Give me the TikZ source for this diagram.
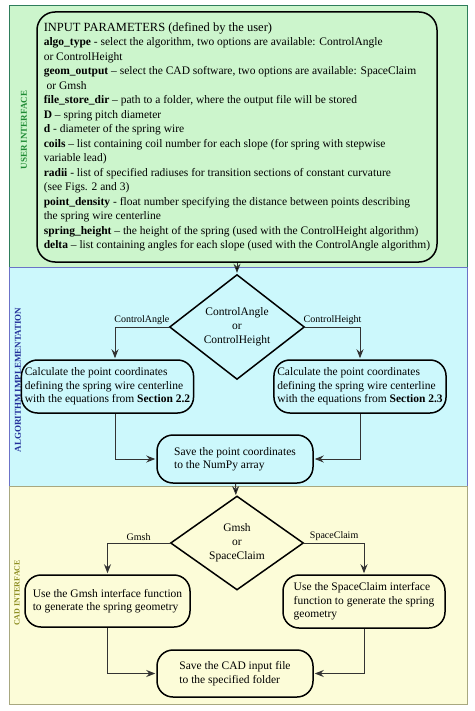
\documentclass[tikz,border=0pt]{standalone}
\usepackage{fontspec}
\setmainfont{Liberation Serif}
\usetikzlibrary{shapes.geometric, arrows.meta}

\definecolor{uifill}{HTML}{CCF5CC}
\definecolor{uiline}{HTML}{2E7D5B}
\definecolor{uitext}{HTML}{1F8A34}
\definecolor{aifill}{HTML}{CCF8FC}
\definecolor{ailine}{HTML}{6B72C8}
\definecolor{aitext}{HTML}{22309A}
\definecolor{cadfill}{HTML}{FCFCD8}
\definecolor{cadline}{HTML}{A8A880}
\definecolor{cadtext}{HTML}{8E8E22}

\begin{document}
\begin{tikzpicture}[x=1pt, y=-1pt, shorten >=1pt,
    lane/.style={line width=1pt},
    lanetext/.style={rotate=90, font=\bfseries\fontsize{9}{10}\selectfont},
    box/.style={draw, line width=1.5pt, rounded corners=16pt, align=left,
      font=\fontsize{11.5}{13.5}\selectfont},
    choice/.style={draw, diamond, line width=1.5pt, inner sep=0pt, align=center,
      font=\fontsize{11.5}{14}\selectfont},
    flow/.style={draw=black!80, line width=0.9pt, -{Stealth[length=9pt,width=7pt,inset=3pt]}},
    tag/.style={above, inner sep=2pt, font=\fontsize{10}{12}\selectfont}]
  \useasboundingbox (0,0) rectangle (474,711);
  % lanes
  \path[lane, draw=uiline, fill=uifill] (9,6) rectangle (467,267);
  \path[lane, draw=ailine, fill=aifill] (9,267) rectangle (467,486);
  \path[lane, draw=cadline, fill=cadfill] (9,486) rectangle (467,704);
  \node[lanetext, text=uitext] (ui) at (24,130) {USER INTERFACE};
  \node[lanetext, text=aitext] (ai) at (18,380) {ALGORITHM IMPLEMENTATION};
  \node[lanetext, text=cadtext, font=\bfseries\fontsize{8}{9}\selectfont] (ci) at (17,593) {CAD INTERFACE};

  % user interface
  \node[box, rounded corners=18pt, fill=uifill, minimum width=400pt, minimum height=250pt,
    font=\fontsize{11.5}{14.5}\selectfont] (par) at (237,137) {{\fontsize{12.5}{14.5}\selectfont INPUT PARAMETERS (defined by the user)}\\
    \textbf{algo\_type} - select the algorithm, two options are available: ControlAngle\\
    or ControlHeight\\
    \textbf{geom\_output} -- select the CAD software, two options are available: SpaceClaim\\
    \ or Gmsh\\
    \textbf{file\_store\_dir} -- path to a folder, where the output file will be stored\\
    \textbf{D} -- spring pitch diameter\\
    \textbf{d} - diameter of the spring wire\\
    \textbf{coils} -- list containing coil number for each slope (for spring with stepwise\\
    variable lead)\\
    \textbf{radii} - list of specified radiuses for transition sections of constant curvature\\
    (see Figs. 2 and 3)\\
    \textbf{point\_density} - float number specifying the distance between points describing\\
    the spring wire centerline\\
    \textbf{spring\_height} -- the height of the spring (used with the ControlHeight algorithm)\\
    \textbf{delta} -- list containing angles for each slope (used with the ControlAngle algorithm)};

  % algorithm implementation
  \node[choice, minimum width=135pt, minimum height=85pt] (ctl) at (237,327) {ControlAngle\\or\\ControlHeight};
  \node[box, minimum width=165pt, minimum height=53pt] (ca) at (107.5,386.5) {Calculate the point coordinates\\
    defining the spring wire centerline\\
    with the equations from \textbf{Section 2.2}};
  \node[box, minimum width=170pt, minimum height=53pt] (ch) at (360,386.5) {Calculate the point coordinates\\
    defining the spring wire centerline\\
    with the equations from \textbf{Section 2.3}};
  \node[box, minimum width=156pt, minimum height=48pt] (sv) at (235,459) {Save the point coordinates\\
    to the NumPy array};

  % CAD interface
  \node[choice, minimum width=133pt, minimum height=84pt] (cad) at (237,543) {Gmsh\\or\\SpaceClaim};
  \node[box, minimum width=165pt, minimum height=52pt] (gm) at (107.5,601) {Use the Gmsh interface function\\
    to generate the spring geometry};
  \node[box, minimum width=162pt, minimum height=53pt] (sp) at (364,601.5) {Use the SpaceClaim interface\\
    function to generate the spring\\
    geometry};
  \node[box, minimum width=156pt, minimum height=47pt] (sf) at (235,673.5) {Save the CAD input file\\
    to the specified folder};

  % connectors
  \path[flow]
    (par) edge (ctl)
    (sv) edge (cad);
  \draw[flow] (ctl.west) -| node[tag, pos=0.25] {ControlAngle} ([xshift=7.5pt]ca.north);
  \draw[flow] (ctl.east) -| node[tag, pos=0.25] {ControlHeight} (ch.north);
  \draw[flow] ([xshift=7.5pt]ca.south) |- (sv.west);
  \draw[flow] (ch.south) |- (sv.east);
  \draw[flow] (cad.west) -| node[tag, pos=0.25] {Gmsh} (gm.north);
  \draw[flow] (cad.east) -| node[tag, pos=0.25] {SpaceClaim} (sp.north);
  \draw[flow] (gm.south) |- (sf.west);
  \draw[flow] (sp.south) |- (sf.east);
\end{tikzpicture}
\end{document}
